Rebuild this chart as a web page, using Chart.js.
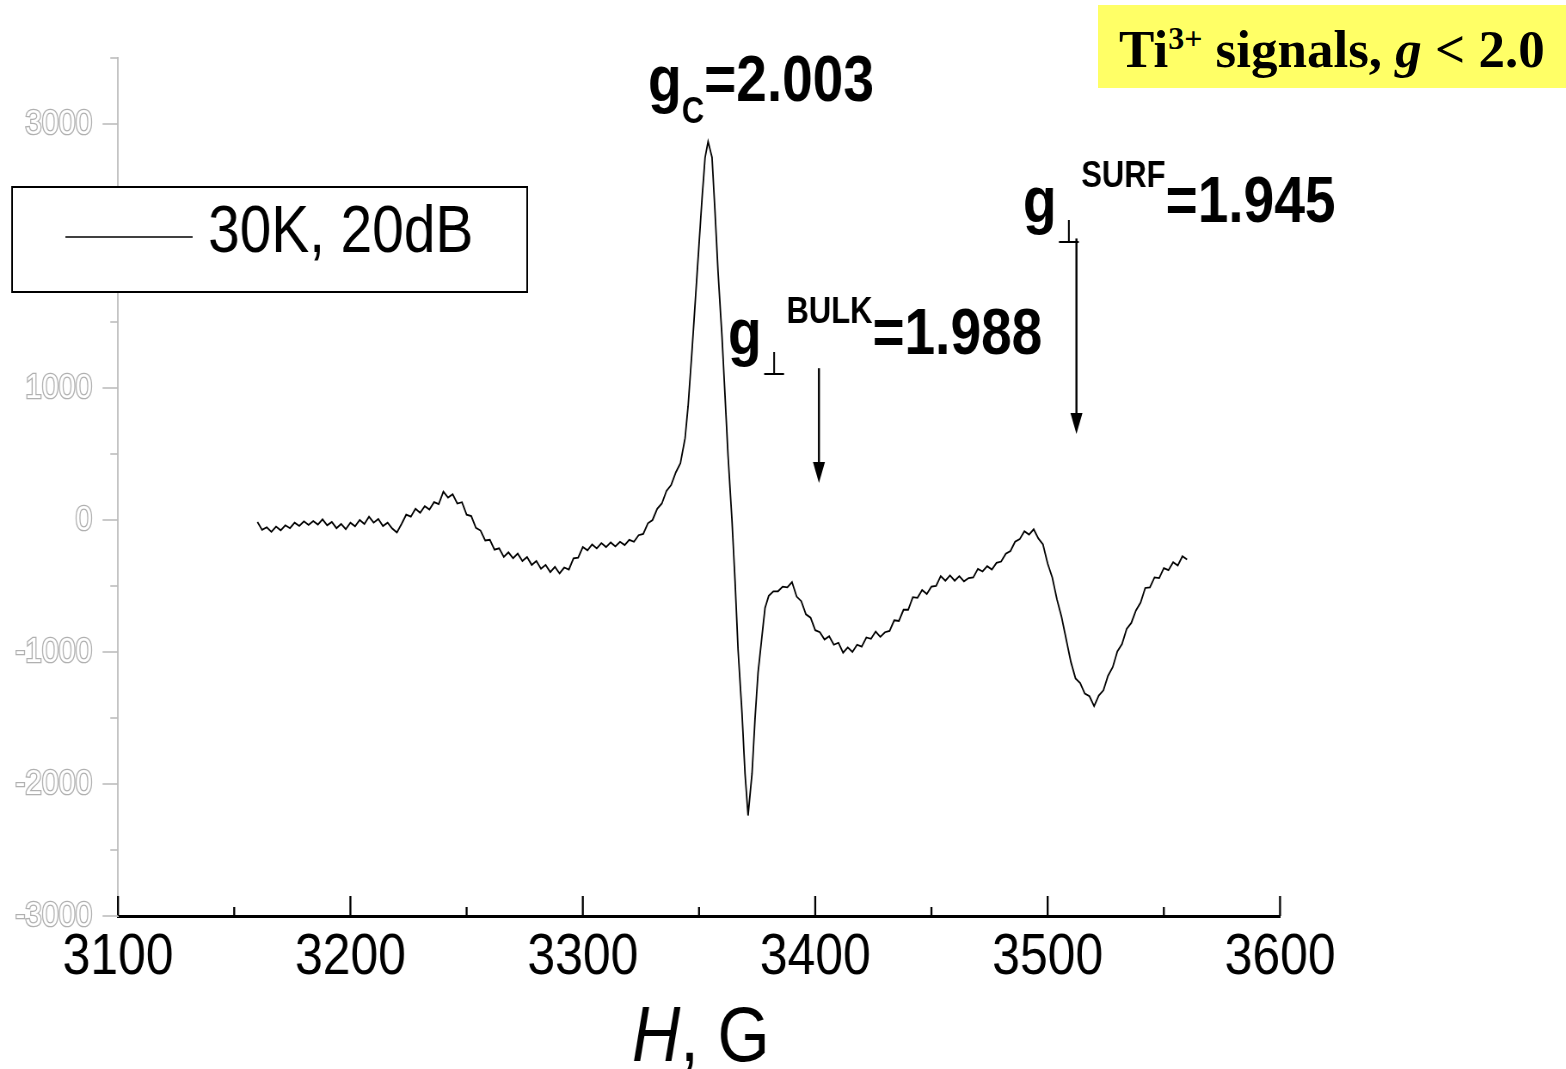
<!DOCTYPE html>
<html>
<head>
<meta charset="utf-8">
<title>Ti3+ EPR spectrum</title>
<script src="https://cdn.jsdelivr.net/npm/chart.js@4.4.1/dist/chart.umd.min.js"></script>
<style>
  html, body { margin: 0; padding: 0; background: #fff; overflow: hidden; }
  /* the Origin-style plot is drawn wide and squeezed horizontally */
  #stage { position: absolute; left: 0; top: 0; width: 1821px; height: 1069px;
           transform: scaleX(0.86); transform-origin: 0 0; }
  #note { position: absolute; left: 1098px; top: 5px; width: 468px; height: 83px;
          box-sizing: border-box; padding: 6px 0 0 21px; background: #ffff66;
          font: bold 53px "Liberation Serif", "Times New Roman", serif; line-height: 77px;
          white-space: nowrap; color: #000; }
  #note sup { font-size: 32px; line-height: 0; vertical-align: 18px; }
</style>
</head>
<body>
<div id="stage"><canvas id="epr" width="1821" height="1069"></canvas></div>
<div id="note">Ti<sup>3+</sup> signals, <i>g</i> &lt; 2.0</div>
<script>
// magnetic field, G
var field = [
  3160, 3162, 3164, 3166, 3168, 3170, 3172, 3174, 3176, 3178,
  3180, 3182, 3184, 3186, 3188, 3190, 3192, 3194, 3196, 3198,
  3200, 3202, 3204, 3206, 3208, 3210, 3212, 3214, 3216, 3218,
  3220, 3222, 3224, 3226, 3228, 3230, 3232, 3234, 3236, 3238,
  3240, 3242, 3244, 3246, 3248, 3250, 3252, 3254, 3256, 3258,
  3260, 3262, 3264, 3266, 3268, 3270, 3272, 3274, 3276, 3278,
  3280, 3282, 3284, 3286, 3288, 3290, 3292, 3294, 3296, 3298,
  3300, 3302, 3304, 3306, 3308, 3310, 3312, 3314, 3316, 3318,
  3320, 3322, 3324, 3326, 3328, 3330, 3332, 3334, 3336, 3338,
  3340, 3342,
  3344, 3345.3, 3347, 3348.3, 3349.6, 3351.3, 3352.6, 3353.9, 3355.6, 3356.9,
  3358.2, 3359.9, 3361.2, 3362.5, 3364.2, 3365.5, 3366.8, 3368.5, 3369.8, 3371.1,
  3372.8, 3374.1, 3375.4, 3377.1, 3378.4,
  3380, 3382, 3384, 3386, 3388, 3390, 3392, 3394, 3396, 3398,
  3400, 3402, 3404, 3406, 3408, 3410, 3412, 3414, 3416, 3418,
  3420, 3422, 3424, 3426, 3428, 3430, 3432, 3434, 3436, 3438,
  3440, 3442, 3444, 3446, 3448, 3450, 3452, 3454, 3456, 3458,
  3460, 3462, 3464, 3466, 3468, 3470, 3472, 3474, 3476, 3478,
  3480, 3482, 3484, 3486, 3488, 3490, 3492, 3494, 3496, 3498,
  3500, 3502, 3504, 3506, 3508, 3510, 3512, 3514, 3516, 3518,
  3520, 3522, 3524, 3526, 3528, 3530, 3532, 3534, 3536, 3538,
  3540, 3542, 3544, 3546, 3548, 3550, 3552, 3554, 3556, 3558,
  3560
];

// first-derivative EPR signal, arb. units
var signal = [
  -15, -75, -55, -90, -50, -78, -40, -62, -20, -45,
  -10, -38, -8, -35, 5, -40, -15, -62, -30, -70,
  -20, -48, 0, -30, 25, -20, 8, -45, -20, -65,
  -95, -30, 40, 25, 85, 55, 105, 80, 135, 120,
  215, 170, 195, 125, 135, 40, 30, -60, -80, -155,
  -150, -225, -215, -280, -245, -290, -255, -310, -280, -340,
  -310, -370, -340, -395, -355, -405, -360, -375, -290, -285,
  -205, -230, -185, -215, -175, -205, -170, -200, -165, -190,
  -150, -165, -115, -105, -25, 0, 85, 125, 220, 265,
  360, 430,
  620, 862, 1286, 1634, 1982, 2436, 2746, 2867, 2746, 2330,
  1876, 1384, 938, 484, -8, -461, -983, -1467, -1922, -2239,
  -1922, -1505, -1157, -878, -666,
  -575, -540, -540, -505, -510, -470, -580, -615, -715, -740,
  -835, -850, -905, -880, -945, -930, -1005, -965, -1000, -945,
  -960, -890, -900, -845, -885, -850, -840, -760, -765, -680,
  -680, -585, -590, -530, -560, -505, -500, -425, -460, -420,
  -460, -425, -465, -440, -435, -370, -390, -350, -375, -325,
  -315, -255, -235, -165, -145, -85, -110, -70, -140, -185,
  -330, -435, -600, -735, -905, -1075, -1200, -1235, -1315, -1335,
  -1410, -1330, -1290, -1180, -1115, -995, -940, -825, -780, -685,
  -625, -515, -510, -435, -440, -365, -380, -320, -345, -275,
  -300
];

var seriesLabel = '30K, 20dB';
var fieldTicks = [3100, 3200, 3300, 3400, 3500, 3600];
var fieldMinor = [3150, 3250, 3350, 3450, 3550];
var signalTicks = [-3000, -2000, -1000, 0, 1000, 2000, 3000];

// g-factor labels: anchor in (field, signal), text runs left to right
var gLabels = [
  { at: [3328.1, 3177], parts: [
      { t: 'g', size: 64 }, { t: 'C', size: 36, dy: 22 }, { t: '=2.003', size: 64 } ] },
  { at: [3362.5, 1256], parts: [
      { t: 'g', size: 64 }, { t: '\u22A5', size: 33, dy: 21, sym: true },
      { t: 'BULK', size: 36, dy: -31 }, { t: '=1.988', size: 64 } ] },
  { at: [3489.4, 2254], parts: [
      { t: 'g', size: 64 }, { t: '\u22A5', size: 33, dy: 21, sym: true },
      { t: 'SURF', size: 36, dy: -35 }, { t: '=1.945', size: 64 } ] }
];
var arrows = [
  { x: 3401.6, from: 1150, to: 280 },
  { x: 3512.4, from: 2133, to: 651 }
];

var SANS = '"Liberation Sans", Arial, sans-serif';

var points = field.map(function (f, i) { return { x: f, y: signal[i] }; });

var eprDecor = {
  id: 'eprDecor',
  afterDraw: function (chart) {
    var ctx = chart.ctx, xs = chart.scales.x, ys = chart.scales.y;
    var area = chart.chartArea;
    ctx.save();

    // field axis: ticks point up into the plot
    ctx.strokeStyle = '#000';
    ctx.lineWidth = 2.3;
    fieldTicks.concat(fieldMinor).forEach(function (v) {
      var px = xs.getPixelForValue(v);
      var len = fieldTicks.indexOf(v) >= 0 ? 20 : 9;
      ctx.beginPath();
      ctx.moveTo(px, area.bottom);
      ctx.lineTo(px, area.bottom - len);
      ctx.stroke();
    });

    // signal axis: grey ticks pointing left
    ctx.strokeStyle = '#bdbdbd';
    ctx.lineWidth = 1.6;
    ys.ticks.forEach(function (t) {
      var py = ys.getPixelForValue(t.value);
      var len = t.value % 1000 === 0 ? 18 : 9;
      ctx.beginPath();
      ctx.moveTo(area.left, py);
      ctx.lineTo(area.left - len, py);
      ctx.stroke();
    });

    // axis title with italic H
    ctx.fillStyle = '#000';
    ctx.textBaseline = 'alphabetic';
    var fItal = 'italic 78px ' + SANS, fReg = '78px ' + SANS;
    ctx.font = fItal;
    var wH = ctx.measureText('H').width;
    ctx.font = fReg;
    var wRest = ctx.measureText(', G').width;
    var cx = (area.left + area.right) / 2 - (wH + wRest) / 2 + 2;
    ctx.font = fItal;
    ctx.fillText('H', cx, 1061);
    ctx.font = fReg;
    ctx.fillText(', G', cx + wH, 1061);

    // legend box
    var ds = chart.data.datasets[0];
    ctx.fillStyle = '#fff';
    ctx.fillRect(14, 187, 599, 105);
    ctx.strokeStyle = '#000';
    ctx.lineWidth = 2;
    ctx.strokeRect(14, 187, 599, 105);
    ctx.strokeStyle = ds.borderColor;
    ctx.lineWidth = 1.5;
    ctx.beginPath();
    ctx.moveTo(76, 237);
    ctx.lineTo(224, 237);
    ctx.stroke();
    ctx.fillStyle = '#000';
    ctx.font = '66px ' + SANS;
    ctx.textBaseline = 'middle';
    ctx.fillText(ds.label, 242, 234);

    // g-factor labels
    ctx.textBaseline = 'alphabetic';
    gLabels.forEach(function (lab) {
      var x = xs.getPixelForValue(lab.at[0]);
      var y = ys.getPixelForValue(lab.at[1]);
      lab.parts.forEach(function (p) {
        ctx.font = p.sym ? p.size + 'px "DejaVu Sans", sans-serif' : 'bold ' + p.size + 'px ' + SANS;
        ctx.fillText(p.t, x, y + (p.dy || 0));
        x += ctx.measureText(p.t).width;
      });
    });

    // arrows
    ctx.strokeStyle = '#000';
    ctx.fillStyle = '#000';
    ctx.lineWidth = 2.4;
    arrows.forEach(function (a) {
      var px = xs.getPixelForValue(a.x);
      var y1 = ys.getPixelForValue(a.from);
      var y2 = ys.getPixelForValue(a.to);
      ctx.beginPath();
      ctx.moveTo(px, y1);
      ctx.lineTo(px, y2 - 16);
      ctx.stroke();
      ctx.beginPath();
      ctx.moveTo(px - 7, y2 - 21);
      ctx.lineTo(px + 7, y2 - 21);
      ctx.lineTo(px, y2);
      ctx.closePath();
      ctx.fill();
    });

    ctx.restore();
  }
};

new Chart(document.getElementById('epr'), {
  type: 'scatter',
  data: {
    datasets: [{
      label: seriesLabel,
      data: points,
      showLine: true,
      borderColor: '#000',
      borderWidth: 1.8,
      pointRadius: 0,
      tension: 0
    }]
  },
  options: {
    responsive: false,
    animation: false,
    layout: { padding: { left: 0, right: 332.6, top: 58, bottom: 0 } },
    plugins: { legend: { display: false }, tooltip: { enabled: false } },
    scales: {
      x: {
        type: 'linear',
        min: 3100,
        max: 3600,
        afterFit: function (s) { s.height = 153; },
        afterBuildTicks: function (s) {
          s.ticks = fieldTicks.map(function (v) { return { value: v }; });
        },
        border: { color: '#000', width: 3 },
        grid: { drawOnChartArea: false, drawTicks: false },
        ticks: {
          autoSkip: false,
          maxRotation: 0,
          padding: 7,
          color: '#000',
          font: { family: SANS, size: 58 },
          callback: function (v) { return String(v); }
        }
      },
      y: {
        min: -3000,
        max: 3500,
        afterFit: function (s) { s.width = 137.2; },
        border: { color: '#c4c4c4', width: 2 },
        grid: { drawOnChartArea: false, drawTicks: false },
        ticks: {
          stepSize: 500,
          autoSkip: false,
          padding: 30,
          color: '#fff',
          textStrokeColor: '#b0b0b0',
          textStrokeWidth: 2.6,
          font: { family: SANS, size: 35 },
          callback: function (v) { return signalTicks.indexOf(v) >= 0 ? String(v) : ''; }
        }
      }
    }
  },
  plugins: [eprDecor]
});
</script>
</body>
</html>
